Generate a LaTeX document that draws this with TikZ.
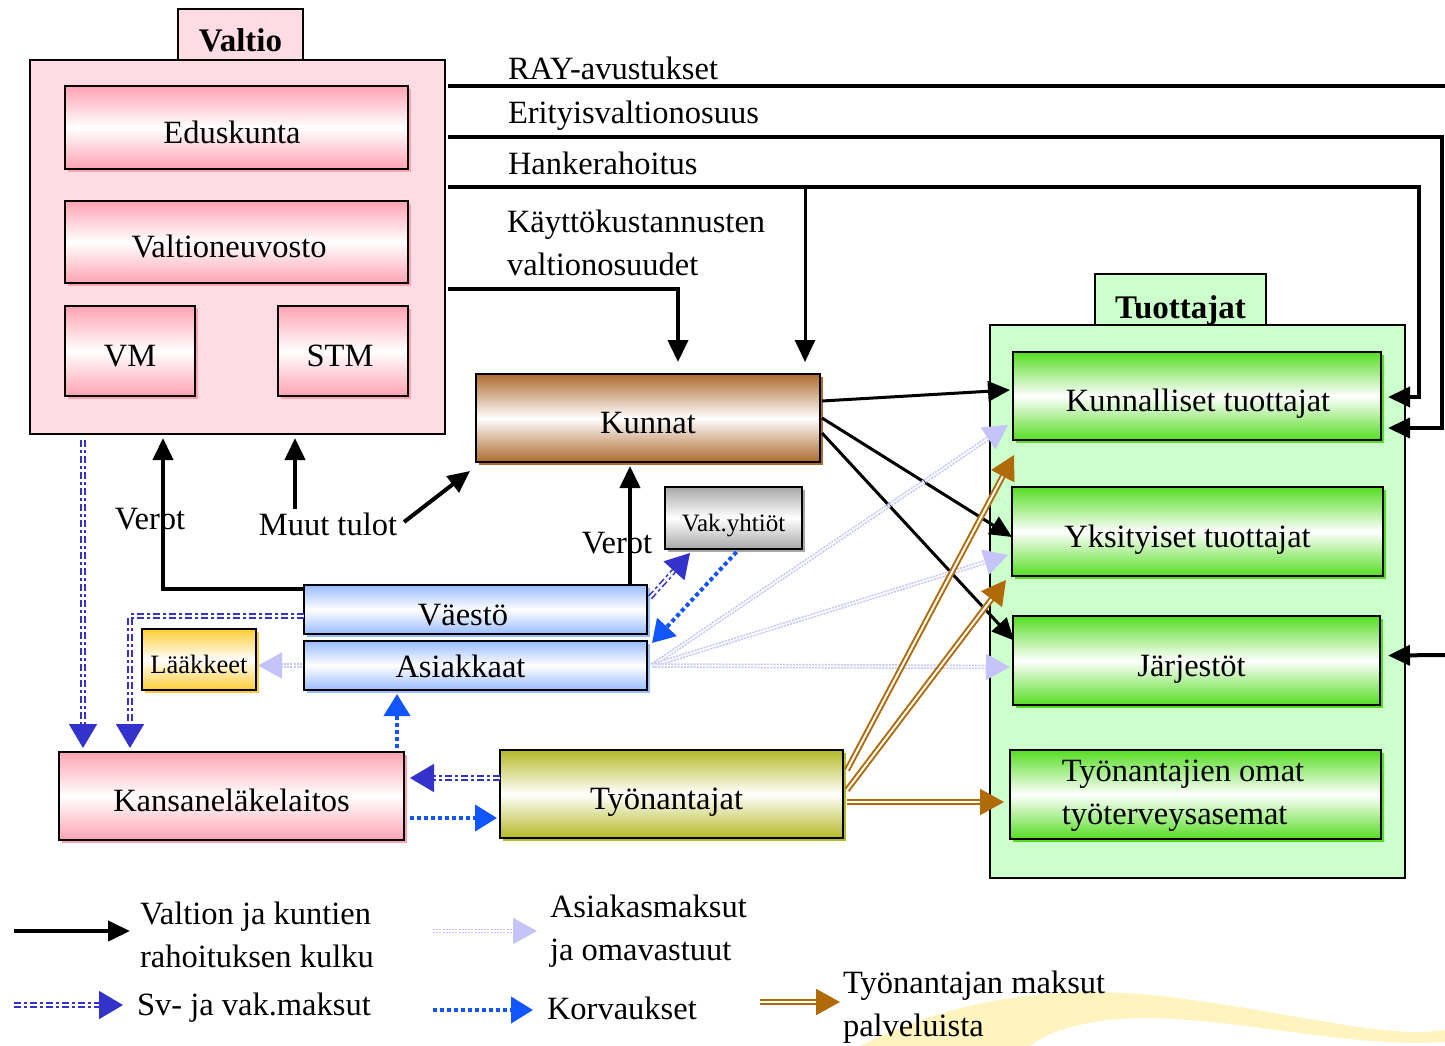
\documentclass[tikz,border=0pt]{standalone}
\usepackage{fontspec}
\setmainfont{Liberation Serif}
\usetikzlibrary{arrows.meta,calc,shadows}
\definecolor{pinkC}{HTML}{FFA3B3}
\definecolor{pinkBG}{HTML}{FFDCE4}
\definecolor{greenC}{HTML}{55DD22}
\definecolor{greenBG}{HTML}{CCFFCC}
\definecolor{brownC}{HTML}{AD6A2E}
\definecolor{grayC}{HTML}{A8A8A8}
\definecolor{blueC}{HTML}{99BBFF}
\definecolor{yellowC}{HTML}{FFCC33}
\definecolor{oliveC}{HTML}{B5B925}
\definecolor{svC}{HTML}{3333CC}
\definecolor{korC}{HTML}{1155FF}
\definecolor{lavC}{HTML}{C4C4F8}
\definecolor{empC}{HTML}{B06A08}
\definecolor{swooshC}{HTML}{FFF4BF}
\newcommand\fs{\fontsize{32.5pt}{43pt}\selectfont}
\begin{document}
\begin{tikzpicture}[x=1pt,y=-1pt,
  every node/.style={inner sep=0pt, outer sep=0pt},
  boxm/.style={draw=black, line width=2pt, font=\fs, align=center},
  box/.style={boxm, text height=31pt, text depth=0pt},
  grad/.style={top color=#1, bottom color=#1, middle color=white,
    general shadow={fill=#1, shadow xshift=3pt, shadow yshift=-3pt}},
  cont/.style={draw=black, line width=1.5pt, fill=#1},
  lbl/.style={font=\fs, align=left},
  blk/.style={line width=4pt, -{Triangle[length=22pt,width=20pt]}},
  blkthin/.style={line width=3pt, -{Triangle[length=22pt,width=20pt]}},
  sv/.style={draw=svC, double=white, line width=1.6pt, double distance=2.2pt,
    dash pattern=on 7pt off 3pt on 3pt off 3pt, -{Triangle[length=24pt,width=28pt]}},
  kor/.style={draw=korC, line width=4pt, dash pattern=on 4pt off 3pt,
    -{Triangle[length=22pt,width=26pt]}},
  asi/.style={draw=lavC, double=white, line width=1.5pt, double distance=1.6pt,
    dash pattern=on 2pt off 1.2pt, -{Triangle[length=24pt,width=26pt]}},
  emp/.style={draw=empC, double=white, line width=2pt, double distance=2pt,
    -{Triangle[length=24pt,width=26pt]}},
]
\useasboundingbox (0,0) rectangle (1445,1046);

% decorative swoosh
\fill[swooshC] (860,1046) .. controls (950,1000) and (1050,985) .. (1150,995)
  .. controls (1280,1008) and (1380,1040) .. (1445,1030) -- (1445,1042)
  .. controls (1350,1048) and (1250,1020) .. (1150,1018)
  .. controls (1090,1018) and (1050,1030) .. (1030,1046) -- cycle;

% Valtio
\node[cont=pinkBG, minimum width=125pt, minimum height=51pt, text height=35pt, text depth=0pt, font=\fontsize{33pt}{40pt}\selectfont\bfseries] (valtiotab) at (240.5,34.5) {Valtio};
\node[cont=pinkBG, minimum width=415pt, minimum height=374pt] (valtio) at (237.5,247) {};
\node[box, grad=pinkC, minimum width=343pt, minimum height=83pt] (edus) at (236.5,127.5) {\hspace*{-9pt}Eduskunta};
\node[box, grad=pinkC, minimum width=343pt, minimum height=82pt] (vn) at (236.5,242) {\hspace*{-15pt}Valtioneuvosto};
\node[box, grad=pinkC, minimum width=130pt, minimum height=90pt] (vm) at (130,351) {VM};
\node[box, grad=pinkC, minimum width=130pt, minimum height=90pt] (stm) at (343,351) {\hspace*{-6pt}STM};

% middle nodes
\node[box, grad=brownC, minimum width=344pt, minimum height=88pt] (kunnat) at (648,418) {Kunnat};
\node[box, grad=grayC, line width=1.5pt, minimum width=137pt, minimum height=62pt, text height=26pt, font=\fontsize{25pt}{30pt}\selectfont] (vak) at (733.5,518) {Vak.yhtiöt};
\node[box, grad=blueC, minimum width=343pt, minimum height=49pt] (vaesto) at (475.5,609.5) {\hspace*{-25pt}Väestö};
\node[box, grad=blueC, minimum width=343pt, minimum height=49pt, text height=24pt] (asiak) at (475.5,665.5) {\hspace*{-30pt}Asiakkaat};
\node[box, grad=yellowC, minimum width=114pt, minimum height=61pt, text height=27pt, font=\fontsize{26.5pt}{30pt}\selectfont] (laak) at (199,659.5) {Lääkkeet};
\node[box, grad=pinkC, minimum width=345pt, minimum height=88pt] (kela) at (231.5,796) {Kansaneläkelaitos};
\node[box, grad=oliveC, minimum width=343pt, minimum height=88pt] (tyon) at (671.5,794) {\hspace*{-10pt}Työnantajat};

% Tuottajat
\node[cont=greenBG, minimum width=171pt, minimum height=51pt, text height=37pt, text depth=0pt, font=\fontsize{33pt}{40pt}\selectfont\bfseries] (tuottab) at (1180.5,299.5) {Tuottajat};
\node[cont=greenBG, minimum width=415pt, minimum height=553pt] (tuot) at (1197.5,601.5) {};
\node[box, grad=greenC, minimum width=368pt, minimum height=88pt] (kunt) at (1197,396) {\hspace*{2pt}Kunnalliset tuottajat};
\node[box, grad=greenC, minimum width=371pt, minimum height=89pt] (yks) at (1197.5,531.5) {\hspace*{-20pt}Yksityiset tuottajat};
\node[box, grad=greenC, minimum width=367pt, minimum height=89pt] (jarj) at (1196.5,660.5) {\hspace*{-10pt}Järjestöt};
\node[boxm, grad=greenC, minimum width=371pt, minimum height=89pt, align=left] (tyot) at (1195.5,794.5) {\hspace*{-25pt}\raisebox{-3pt}{\begin{tabular}{@{}l@{}}Työnantajien omat\\työterveysasemat\end{tabular}}};

% top labels
\node[lbl, anchor=base west] (lray) at (508,80) {RAY-avustukset};
\node[lbl, anchor=base west] (lerit) at (508,124) {Erityisvaltionosuus};
\node[lbl, anchor=base west] (lhank) at (508,174) {Hankerahoitus};
\node[lbl, anchor=west] (lkayt) at (507,243) {Käyttökustannusten\\valtionosuudet};

% top lines
\coordinate (rayend) at (1445,86);
\draw[line width=4pt] ($(valtio.north east)+(3,26)$) -- (rayend);
\draw[blk] ($(valtio.north east)+(3,77)$) -| ($(kunt.east)+(61,32)$) -- ($(kunt.east)+(7,32)$);
\draw[blk] ($(valtio.north east)+(3,127)$) -| ($(kunt.east)+(38,1)$) -- ($(kunt.east)+(7,1)$);
\draw[blkthin] ($(kunnat.north)+(157,-187)$) -- ($(kunnat.north)+(157,-12)$);
\draw[blk] ($(valtio.north east)+(3,229)$) -| ($(kunnat.north)+(30,-12)$);
\coordinate (jarjin) at (1445,655);
\draw[blk] (jarjin) -- ($(jarj.east)+(8,-5)$);

% Kunnat to producers
\draw[blkthin] ($(kunnat.east)+(2,-17)$) -- ($(kunt.west)+(-3,-6)$);
\draw[blkthin] ($(kunnat.east)+(2,0)$) -- ($(yks.west)+(0,5.5)$);
\draw[blkthin] ($(kunnat.east)+(2,15)$) -- ($(jarj.west)+(1,-20)$);

% Asiakasmaksut
\draw[asi] ($(asiak.east)+(5,0)$) -- ($(kunt.west)+(-5,29)$);
\draw[asi] ($(asiak.east)+(5,0)$) -- ($(yks.west)+(-4,23.5)$);
\draw[asi] ($(asiak.east)+(5,0)$) -- ($(jarj.west)+(-3,6.5)$);
\draw[asi] ($(asiak.west)+(-2,0)$) -- ($(laak.east)+(2,6)$);

% Employer payments
\draw[emp] ($(tyon.east)+(4,-24)$) -- ($(kunt.west)+(1,59)$);
\draw[emp] ($(tyon.east)+(4,-4)$) -- ($(yks.west)+(-6,48.5)$);
\draw[emp] ($(tyon.east)+(4,8)$) -- ($(tyot.west)+(-6,7.5)$);

% Verot / Muut tulot
\node[lbl] (lverot1) at (150,519) {Verot};
\node[lbl] (muut) at (328,524) {Muut tulot};
\node[lbl] (lverot2) at (617,543) {Verot};
\draw[blk] ($(vaesto.north west)+(0,4)$) -| ($(valtio.south)+(-74.5,4)$);
\draw[blk] ($(muut.north)+(-33,-4)$) -- ($(valtio.south)+(57.5,4)$);
\draw[blk] ($(muut.east)+(7,-2)$) -- ($(kunnat.south west)+(-6,9)$);
\draw[blk] ($(vaesto.north)+(154.5,0)$) -- ($(kunnat.south)+(-18,4)$);

% Sv- ja vak.maksut
\draw[sv] ($(valtio.south west)+(53,6)$) -- ($(kela.north west)+(24,-4)$);
\draw[sv] ($(vaesto.west)+(0,6.5)$) -| ($(kela.north west)+(71,-4)$);
\draw[sv] ($(vaesto.east)+(3,-12)$) -- ($(vak.south west)+(25,4)$);
\draw[sv] ($(tyon.west)+(0,-16)$) -- ($(kela.east)+(6,-18)$);

% Korvaukset
\draw[kor] ($(vak.south)+(3,3)$) -- ($(asiak.north east)+(5,2)$);
\draw[kor] ($(kela.north)+(165.5,-4)$) -- ($(asiak.south)+(-78.5,4)$);
\draw[kor] ($(kela.east)+(6,22)$) -- ($(tyon.west)+(-3,24)$);

% Legend
\coordinate (lg1a) at (14,931); \coordinate (lg1b) at (130,931);
\draw[blk] (lg1a) -- (lg1b);
\node[lbl, anchor=west] (lt1) at (140,935) {Valtion ja kuntien\\rahoituksen kulku};
\coordinate (lg2a) at (433,931); \coordinate (lg2b) at (537,931);
\draw[asi] (lg2a) -- (lg2b);
\node[lbl, anchor=west] (lt2) at (550,931) {Asiakasmaksut\\ja omavastuut};
\coordinate (lg3a) at (14,1005); \coordinate (lg3b) at (123,1005);
\draw[sv] (lg3a) -- (lg3b);
\node[lbl, anchor=west] (lt3) at (137,1008) {Sv- ja vak.maksut};
\coordinate (lg4a) at (433,1010); \coordinate (lg4b) at (533,1010);
\draw[kor] (lg4a) -- (lg4b);
\node[lbl, anchor=west] (lt4) at (547,1008) {Korvaukset};
\coordinate (lg5a) at (760,1002); \coordinate (lg5b) at (840,1002);
\draw[emp] (lg5a) -- (lg5b);
\node[lbl, anchor=west] (lt5) at (843,1007) {Työnantajan maksut\\palveluista};
\end{tikzpicture}
\end{document}
